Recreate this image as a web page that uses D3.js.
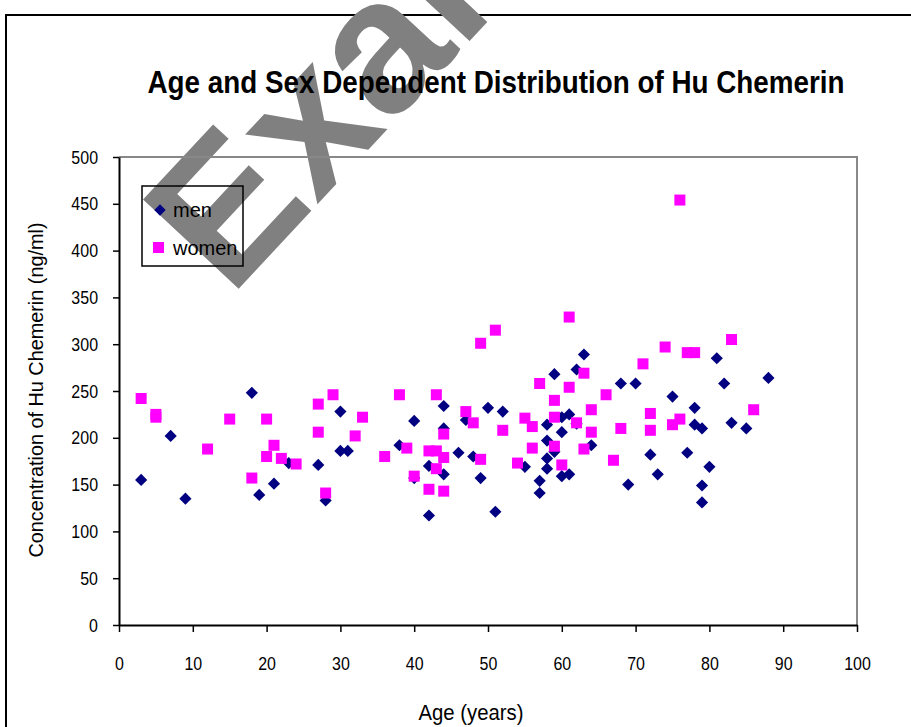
<!DOCTYPE html>
<html>
<head>
<meta charset="utf-8">
<script src="https://cdn.jsdelivr.net/npm/d3@7"></script>
<style>
  body { margin: 0; background: #fff; }
  svg { display: block; }
  text { font-family: "Liberation Sans", Arial, sans-serif; fill: #000; }
</style>
</head>
<body>
<script>
// data: age (years) and concentration (ng/ml)
const menAge = [3, 7, 9, 18, 19, 21, 23, 27, 28, 30, 30, 31,
    63, 59, 62, 44, 40, 50, 52, 47, 44, 58, 60, 61, 62, 60, 58, 59, 38, 46, 48, 42, 44, 40, 49, 55, 58, 58, 57, 57, 60, 61, 64, 42, 51,
    81, 68, 70, 82, 88, 75, 78, 78, 79, 83, 85, 72, 77, 73, 69, 80, 79, 79];
const menConc = [155, 202, 135, 248, 139, 151, 173, 171, 133, 228, 186, 186,
    289, 268, 273, 234, 218, 232, 228, 219, 210, 214, 222, 225, 215, 206, 197, 185, 192, 184, 180, 170, 161, 157, 157, 169, 178, 167, 154, 141, 159, 161, 192, 117, 121,
    285, 258, 258, 258, 264, 244, 232, 214, 210, 216, 210, 182, 184, 161, 150, 169, 149, 131];

const womenAge = [3, 5, 5, 12, 15, 20, 18, 21, 20, 22, 24, 27, 29, 27, 32, 33, 28,
    49, 61, 51, 63, 57, 61, 66, 38, 43, 59, 47, 48, 55, 56, 59, 62, 64, 64, 68, 44, 52, 39, 36, 42, 43, 44, 49, 56, 59, 63, 54, 60, 67, 43, 40, 42, 44,
    76, 83, 74, 77, 78, 71, 72, 76, 75, 86, 72];
const womenConc = [242, 225, 222, 188, 220, 220, 157, 192, 180, 178, 172, 236, 246, 206, 202, 222, 141,
    301, 329, 315, 269, 258, 254, 246, 246, 246, 240, 228, 216, 221, 212, 222, 216, 230, 206, 210, 204, 208, 189, 180, 186, 186, 179, 177, 189, 191, 188, 173, 171, 176, 167, 159, 145, 143,
    454, 305, 297, 291, 291, 279, 226, 220, 214, 230, 208];

const xTicks = [0, 10, 20, 30, 40, 50, 60, 70, 80, 90, 100];
const yTicks = [0, 50, 100, 150, 200, 250, 300, 350, 400, 450, 500];
const seriesNames = ['men', 'women'];

const title = 'Age and Sex Dependent Distribution of Hu Chemerin';
const xTitle = 'Age (years)';
const yTitle = 'Concentration of Hu Chemerin (ng/ml)';

const width = 911, height = 727;
const margin = { top: 157, right: 54, bottom: 102, left: 119 };
const innerWidth = width - margin.left - margin.right;
const innerHeight = height - margin.top - margin.bottom;

const svg = d3.select('body').append('svg')
    .attr('width', width)
    .attr('height', height);

// outer chart frame (runs off the right and bottom edge)
svg.append('rect')
    .attr('x', 6).attr('y', 15)
    .attr('width', 1000).attr('height', 1000)
    .attr('fill', 'none').attr('stroke', '#000').attr('stroke-width', 2);

// watermark
svg.append('text')
    .attr('transform', 'translate(230,298) rotate(-47)')
    .style('font-weight', 'bold')
    .style('font-size', '190px')
    .style('fill', '#808080')
    .text('Example');

const x = d3.scaleLinear().domain([0, 100]).range([0, innerWidth]);
const y = d3.scaleLinear().domain([0, 500]).range([innerHeight, 0]);

const g = svg.append('g')
    .attr('transform', `translate(${margin.left},${margin.top})`);

// grey top + right plot border
g.append('path')
    .attr('d', `M0,0H${innerWidth}V${innerHeight}`)
    .attr('fill', 'none').attr('stroke', '#888').attr('stroke-width', 2);

const xAxis = g.append('g')
    .attr('transform', `translate(0,${innerHeight})`)
    .call(d3.axisBottom(x).tickValues(xTicks).tickSize(7).tickSizeOuter(0).tickPadding(25));

const yAxis = g.append('g')
    .call(d3.axisLeft(y).tickValues(yTicks).tickSize(6).tickSizeOuter(0).tickPadding(15));

// squeeze tick labels to look like the narrow font of the original
[xAxis, yAxis].forEach(a => {
    a.attr('font-family', null).attr('font-size', null);
    a.select('.domain').attr('stroke', '#000').attr('stroke-width', 2);
    a.selectAll('.tick line').attr('stroke', '#000').attr('stroke-width', 1.5);
    a.selectAll('.tick text')
        .style('font-size', '19px')
        .each(function () {
            const len = this.getComputedTextLength();
            d3.select(this).attr('textLength', len * 0.84).attr('lengthAdjust', 'spacingAndGlyphs');
        });
});

const men = menAge.map((a, i) => ({ age: a, conc: menConc[i] }));
const women = womenAge.map((a, i) => ({ age: a, conc: womenConc[i] }));

// men: navy diamonds
g.selectAll('.men')
    .data(men)
    .enter()
    .append('rect')
    .attr('class', 'men')
    .attr('width', 8.6).attr('height', 8.6)
    .attr('x', -4.3).attr('y', -4.3)
    .attr('transform', d => `translate(${x(d.age)},${y(d.conc)}) rotate(45)`)
    .attr('fill', '#000080');

// women: magenta squares
g.selectAll('.women')
    .data(women)
    .enter()
    .append('rect')
    .attr('class', 'women')
    .attr('width', 11).attr('height', 11)
    .attr('x', d => x(d.age) - 5.5)
    .attr('y', d => y(d.conc) - 5.5)
    .attr('fill', '#ff00ff');

// legend
const legend = svg.append('g').attr('transform', 'translate(142,186)');
legend.append('rect')
    .attr('width', 101).attr('height', 80)
    .attr('fill', 'none').attr('stroke', '#000').attr('stroke-width', 1.5);
legend.append('rect')
    .attr('width', 8).attr('height', 8).attr('x', -4).attr('y', -4)
    .attr('transform', 'translate(18,24) rotate(45)')
    .attr('fill', '#000080');
legend.append('rect')
    .attr('x', 11).attr('y', 56).attr('width', 11).attr('height', 11)
    .attr('fill', '#ff00ff');
legend.selectAll('.lbl')
    .data(seriesNames)
    .enter()
    .append('text')
    .attr('x', 31)
    .attr('y', (d, i) => 31 + i * 38)
    .style('font-size', '20px')
    .text(d => d);

// titles
svg.append('text')
    .attr('x', 496).attr('y', 93)
    .attr('text-anchor', 'middle')
    .attr('textLength', 697)
    .attr('lengthAdjust', 'spacingAndGlyphs')
    .style('font-weight', 'bold')
    .style('font-size', '32px')
    .text(title);

svg.append('text')
    .attr('x', 471).attr('y', 720)
    .attr('text-anchor', 'middle')
    .attr('textLength', 105)
    .attr('lengthAdjust', 'spacingAndGlyphs')
    .style('font-size', '22px')
    .text(xTitle);

svg.append('text')
    .attr('transform', 'translate(43,390) rotate(-90)')
    .attr('text-anchor', 'middle')
    .attr('textLength', 335)
    .attr('lengthAdjust', 'spacingAndGlyphs')
    .style('font-size', '21px')
    .text(yTitle);
</script>
</body>
</html>
